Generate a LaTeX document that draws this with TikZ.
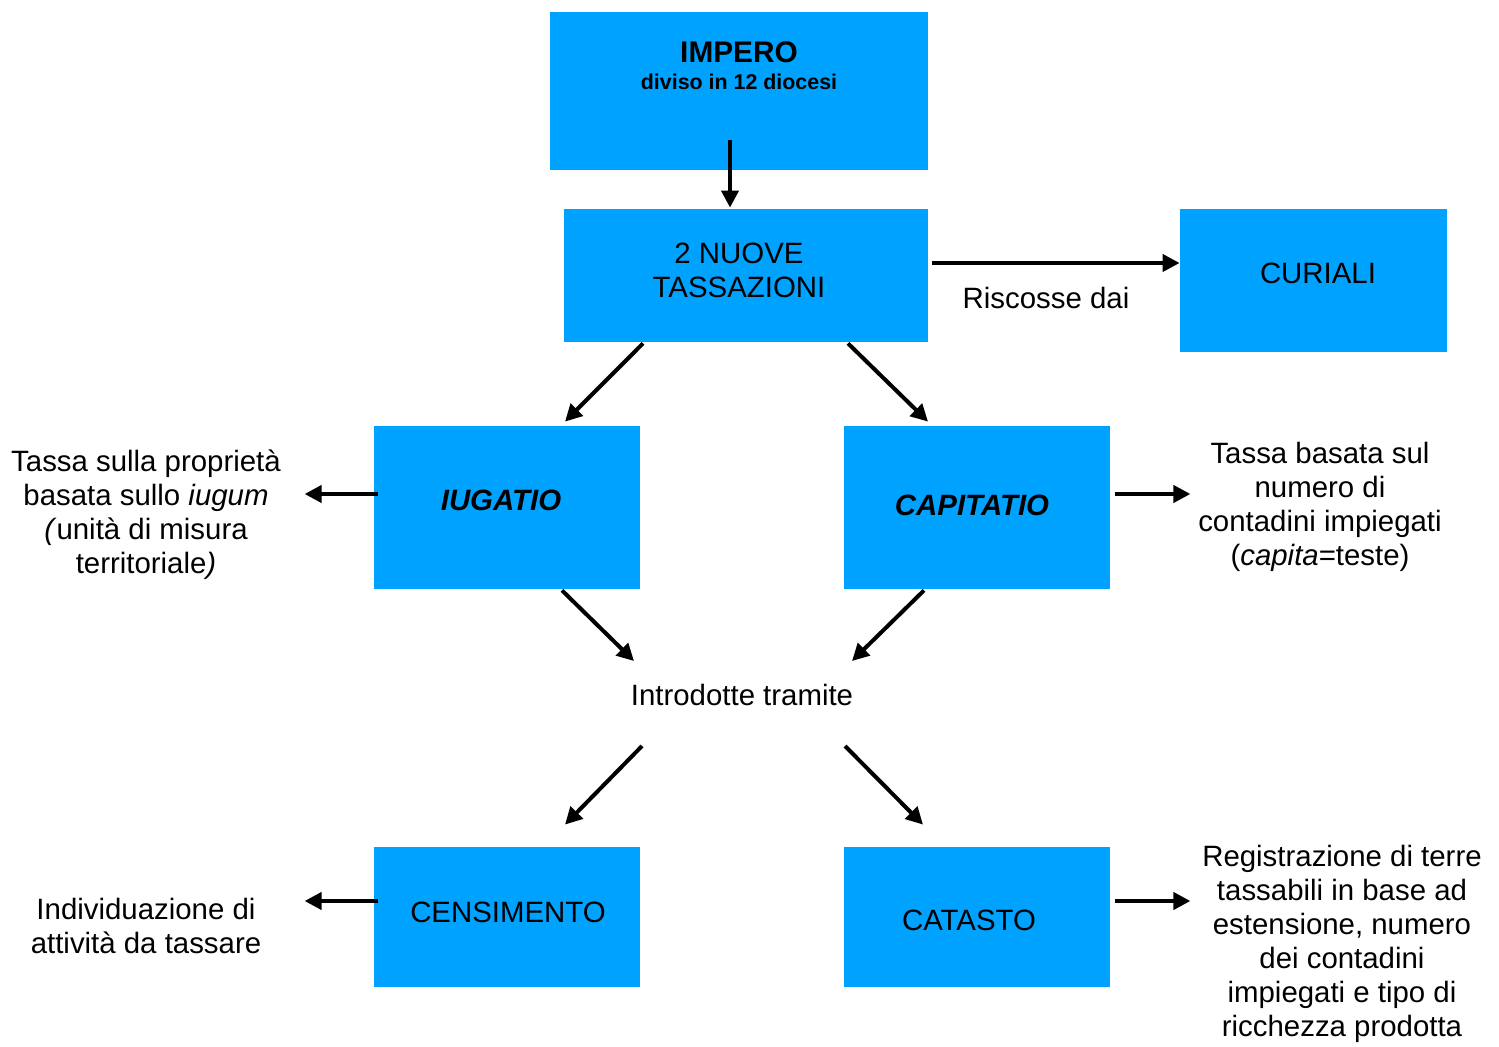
\documentclass[tikz,border=0pt]{standalone}
\usepackage{fontspec}
\setmainfont{Liberation Sans}
\usetikzlibrary{arrows.meta,calc}
\definecolor{boxblue}{RGB}{0,162,255}
\begin{document}
\begin{tikzpicture}[x=0.5pt,y=-0.5pt,
    box/.style={fill=boxblue, draw=none, inner sep=0pt, minimum width=#1},
    arr/.style={line width=2pt, -{Triangle[length=8.5pt,width=8.5pt]}},
    txt/.style={align=center, font=\fontsize{14.7}{17}\selectfont}]
        \useasboundingbox (0,0) rectangle (1499,1047);

        % Boxes
        \node[box=189pt, minimum height=79pt] (impero) at (739,91) {};
        \node[font=\fontsize{14.9}{17}\selectfont\bfseries] (imperotxt) at (739,52) {IMPERO};
        \node[font=\fontsize{10.7}{12}\selectfont\bfseries] (diocesi) at (739,82) {diviso in 12 diocesi};
        \node[box=182pt, minimum height=66.5pt] (nuove) at (746,275.5) {};
        \node[txt] (nuovetxt) at (739,270) {2 NUOVE\\TASSAZIONI};
        \node[box=133.5pt, minimum height=71.5pt] (curiali) at (1313.5,280.5) {};
        \node[txt] (curialitxt) at (1318,273) {CURIALI};
        \node[box=133pt, minimum height=81.5pt] (iugatio) at (507,507.5) {};
        \node[txt, font=\fontsize{14.7}{17}\selectfont\bfseries\itshape] (iugatiotxt) at (501,500) {IUGATIO};
        \node[box=133pt, minimum height=81.5pt] (capitatio) at (977,507.5) {};
        \node[txt, font=\fontsize{14.7}{17}\selectfont\bfseries\itshape] (capitatiotxt) at (972,505) {CAPITATIO};
        \node[box=133pt, minimum height=70pt] (censimento) at (507,917) {};
        \node[txt] (censimentotxt) at (508,912) {CENSIMENTO};
        \node[box=133pt, minimum height=70pt] (catasto) at (977,917) {};
        \node[txt] (catastotxt) at (969,920) {CATASTO};

        % Texts
        \node[txt] (riscosse) at (1046,298) {Riscosse dai};
        \node[txt] (intro) at (742,695) {Introdotte tramite};
        \node[txt] (iugdesc) at (146,515) {Tassa sulla propriet\`a\\basata sullo \textit{iugum}\\\textit{(}unit\`a di misura\\territoriale\textit{)}};
        \node[txt] (capdesc) at (1320,507) {Tassa basata sul\\numero di\\contadini impiegati\\(\textit{capita}=teste)};
        \node[txt] (censdesc) at (146,926) {Individuazione di\\attivit\`a da tassare};
        \node[txt] (catdesc) at (1342,944) {Registrazione di terre\\tassabili in base ad\\estensione, numero\\dei contadini\\impiegati e tipo di\\ricchezza prodotta};

        % Arrows
        \draw[arr] ($(impero.south)+(-9,-30)$) -- ($(nuove.north)+(-16,-1)$);
        \draw[arr] ($(nuove.east)+(4,-12.5)$) -- ($(curiali.west)+(0,-17.5)$);
        \draw[arr] ($(nuove.south)+(-103,1)$) -- ($(iugatio.north)+(58,-4)$);
        \draw[arr] ($(nuove.south)+(102,1)$) -- ($(capitatio.north)+(-49,-4)$);
        \draw[arr] ($(iugatio.west)+(4,-13.5)$) -- ($(iugatio.west)+(-69,-13.5)$);
        \draw[arr] ($(capitatio.east)+(5,-13.5)$) -- ($(capitatio.east)+(80,-13.5)$);
        \draw[arr] ($(iugatio.south)+(55,1)$) -- ($(intro)+(-108,-34)$);
        \draw[arr] ($(capitatio.south)+(-53,1)$) -- ($(intro)+(110,-34)$);
        \draw[arr] ($(intro)+(-100,51)$) -- ($(censimento.north)+(58,-22)$);
        \draw[arr] ($(intro)+(103,51)$) -- ($(catasto.north)+(-54,-22)$);
        \draw[arr] ($(censimento.west)+(4,-16)$) -- ($(censimento.west)+(-69,-16)$);
        \draw[arr] ($(catasto.east)+(5,-16)$) -- ($(catasto.east)+(80,-16)$);
    \end{tikzpicture}
\end{document}
